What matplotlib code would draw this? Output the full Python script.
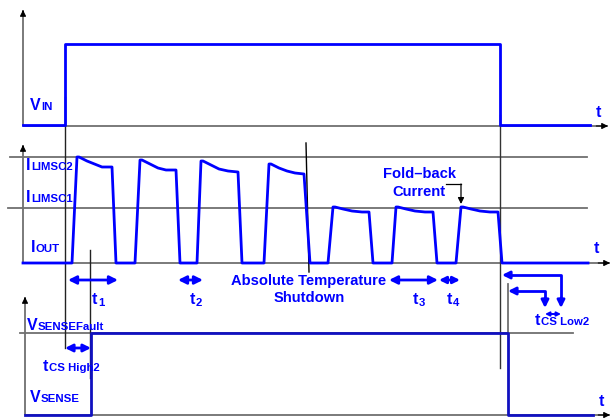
import matplotlib.pyplot as plt

plt.rcParams['font.family'] = ['Liberation Sans', 'DejaVu Sans']

BLUE = '#0000ff'
GRAY = '#707070'

# waveforms (x = time position, y = level, in drawing units)
vin_t = [23, 65, 65, 500, 500, 590]
vin_v = [125, 125, 44, 44, 125, 125]

iout_t = [23,
          72, 77, 79, 87, 97, 102, 112, 116,
          135, 140, 142, 150, 158, 166, 176, 180,
          197, 201, 203, 211, 219, 228, 238, 242,
          264, 269, 271, 279, 287, 295, 304, 310,
          328, 333, 335, 343, 352, 362, 369, 373,
          392, 396, 398, 406, 415, 425, 433, 437,
          456, 461, 463, 471, 480, 490, 498, 502,
          588]
iout_v = [263,
          263, 157, 157, 161, 165, 167, 167, 263,
          263, 160, 160, 164, 168, 170, 170, 263,
          263, 161, 161, 165, 169, 171, 172, 263,
          263, 164, 164, 168, 171, 173, 174, 263,
          263, 207, 207, 209, 211, 212, 212, 263,
          263, 207, 207, 209, 211, 212, 212, 263,
          263, 207, 207, 209, 211, 212, 212, 263,
          263]

vsense_t = [25, 91, 91, 508, 508, 593]
vsense_v = [415, 415, 333, 333, 415, 415]

signal_labels = [('V', 'IN'), ('I', 'LIMSC2'), ('I', 'LIMSC1'), ('I', 'OUT'),
                 ('V', 'SENSEFault'), ('t', 'CS High2'), ('V', 'SENSE'), ('t', 'CS Low2')]
interval_names = ['1', '2', '3', '4']

fig = plt.figure(figsize=(6.1, 4.2), dpi=100)
ax = fig.add_axes([0, 0, 1, 1])
ax.set_xlim(0, 610)
ax.set_ylim(420, 0)
ax.axis('off')

FS_MAIN = 11.5
FS_SUB = 8.2


def label(x, y, main, sub, dy=0.0):
    m = ax.text(x, y, main, fontsize=FS_MAIN, color=BLUE, fontweight='bold',
                ha='left', va='baseline')
    ax.annotate(sub, xy=(1, y + dy), xycoords=(m, 'data'), xytext=(0.3, 0),
                textcoords='offset points', fontsize=FS_SUB, color=BLUE,
                fontweight='bold', ha='left', va='baseline')


def axis_arrow(x0, y0, x1, y1):
    ax.plot([x0, x1], [y0, y1], color=GRAY, lw=1.3, solid_capstyle='butt')
    ax.annotate('', xy=(x1, y1), xytext=(x0 + (x1 - x0) * 0.98, y0 + (y1 - y0) * 0.98),
                arrowprops=dict(arrowstyle='-|>', color='black', lw=0.8,
                                mutation_scale=9, shrinkA=0, shrinkB=0))


# axes of the three panels
axis_arrow(23, 126, 23, 10)
axis_arrow(23, 126, 608, 126)
axis_arrow(23, 263, 23, 145)
axis_arrow(23, 263, 610, 263)
axis_arrow(25, 415, 25, 297)
axis_arrow(25, 415, 610, 415)

# reference levels
ax.plot([10, 587], [157, 157], color=GRAY, lw=1.3)
ax.plot([8, 587], [208, 208], color=GRAY, lw=1.3)
ax.plot([20, 573], [333, 333], color=GRAY, lw=1.3)

# marker lines
ax.plot([65, 65], [97, 348], color='#222222', lw=1.0)
ax.plot([500, 500], [115, 368], color='#333333', lw=1.0)
ax.plot([306, 309], [143, 272], color='black', lw=1.0)
ax.plot([90, 90], [250, 378], color='#222222', lw=1.0)
ax.plot([508, 508], [284, 333], color=GRAY, lw=1.3)

# waveforms
ax.plot(vin_t, vin_v, color=BLUE, lw=2.0)
ax.plot(iout_t, iout_v, color=BLUE, lw=2.0)
ax.plot(vsense_t, vsense_v, color='#1010c0', lw=2.0)

# signal labels
label_pos = [(30, 110.5), (26, 170), (26, 201.5), (31, 252.5),
             (27, 330), (43, 371), (30, 402), (535, 325)]
for (x, y), (mn, sb) in zip(label_pos, signal_labels):
    label(x, y, mn, sb)

for x, y in [(598, 117), (596, 253), (601, 406)]:
    ax.text(x, y, 't', fontsize=FS_MAIN, color=BLUE, fontweight='bold',
            ha='center', va='baseline')

for x, s in zip([92, 190, 413, 447], interval_names):
    label(x, 304, 't', s, dy=1.5)

tk = dict(color=BLUE, fontweight='bold', fontsize=10.6, ha='center', va='baseline')
ax.text(309, 285, 'Absolute Temperature', **tk)
ax.text(309, 302, 'Shutdown', **tk)
ax.text(419, 178, 'Fold\u2013back', **tk)
ax.text(419, 196, 'Current', **tk)

# fold-back pointer
ax.plot([446, 461], [184, 184], color='black', lw=0.9)
ax.annotate('', xy=(461, 204), xytext=(461, 184),
            arrowprops=dict(arrowstyle='-|>', color='black', lw=0.9,
                            mutation_scale=9, shrinkA=0, shrinkB=0))

# timing arrows
for x0, x1, y, ms, lw in [(68, 118, 280, 12, 2.0), (178, 203, 280, 12, 2.0),
                          (389, 438, 280, 12, 2.0), (439, 460, 280, 10, 2.0),
                          (65, 91, 348, 11, 2.0), (545, 561, 314, 6, 1.4)]:
    ax.annotate('', xy=(x0, y), xytext=(x1, y),
                arrowprops=dict(arrowstyle='<|-|>', color=BLUE, lw=lw,
                                mutation_scale=ms, shrinkA=0, shrinkB=0))

one = dict(arrowstyle='-|>', color=BLUE, lw=2.0, mutation_scale=11, shrinkA=0, shrinkB=0)
ax.plot([508, 561, 561], [275, 275, 300], color=BLUE, lw=2.0)
ax.annotate('', xy=(502, 275), xytext=(510, 275), arrowprops=one)
ax.annotate('', xy=(561, 308), xytext=(561, 298), arrowprops=one)
ax.plot([514, 545, 545], [291, 291, 300], color=BLUE, lw=2.0)
ax.annotate('', xy=(508, 291), xytext=(516, 291), arrowprops=one)
ax.annotate('', xy=(545, 308), xytext=(545, 298), arrowprops=one)

fig.savefig('out.png', dpi=100)
